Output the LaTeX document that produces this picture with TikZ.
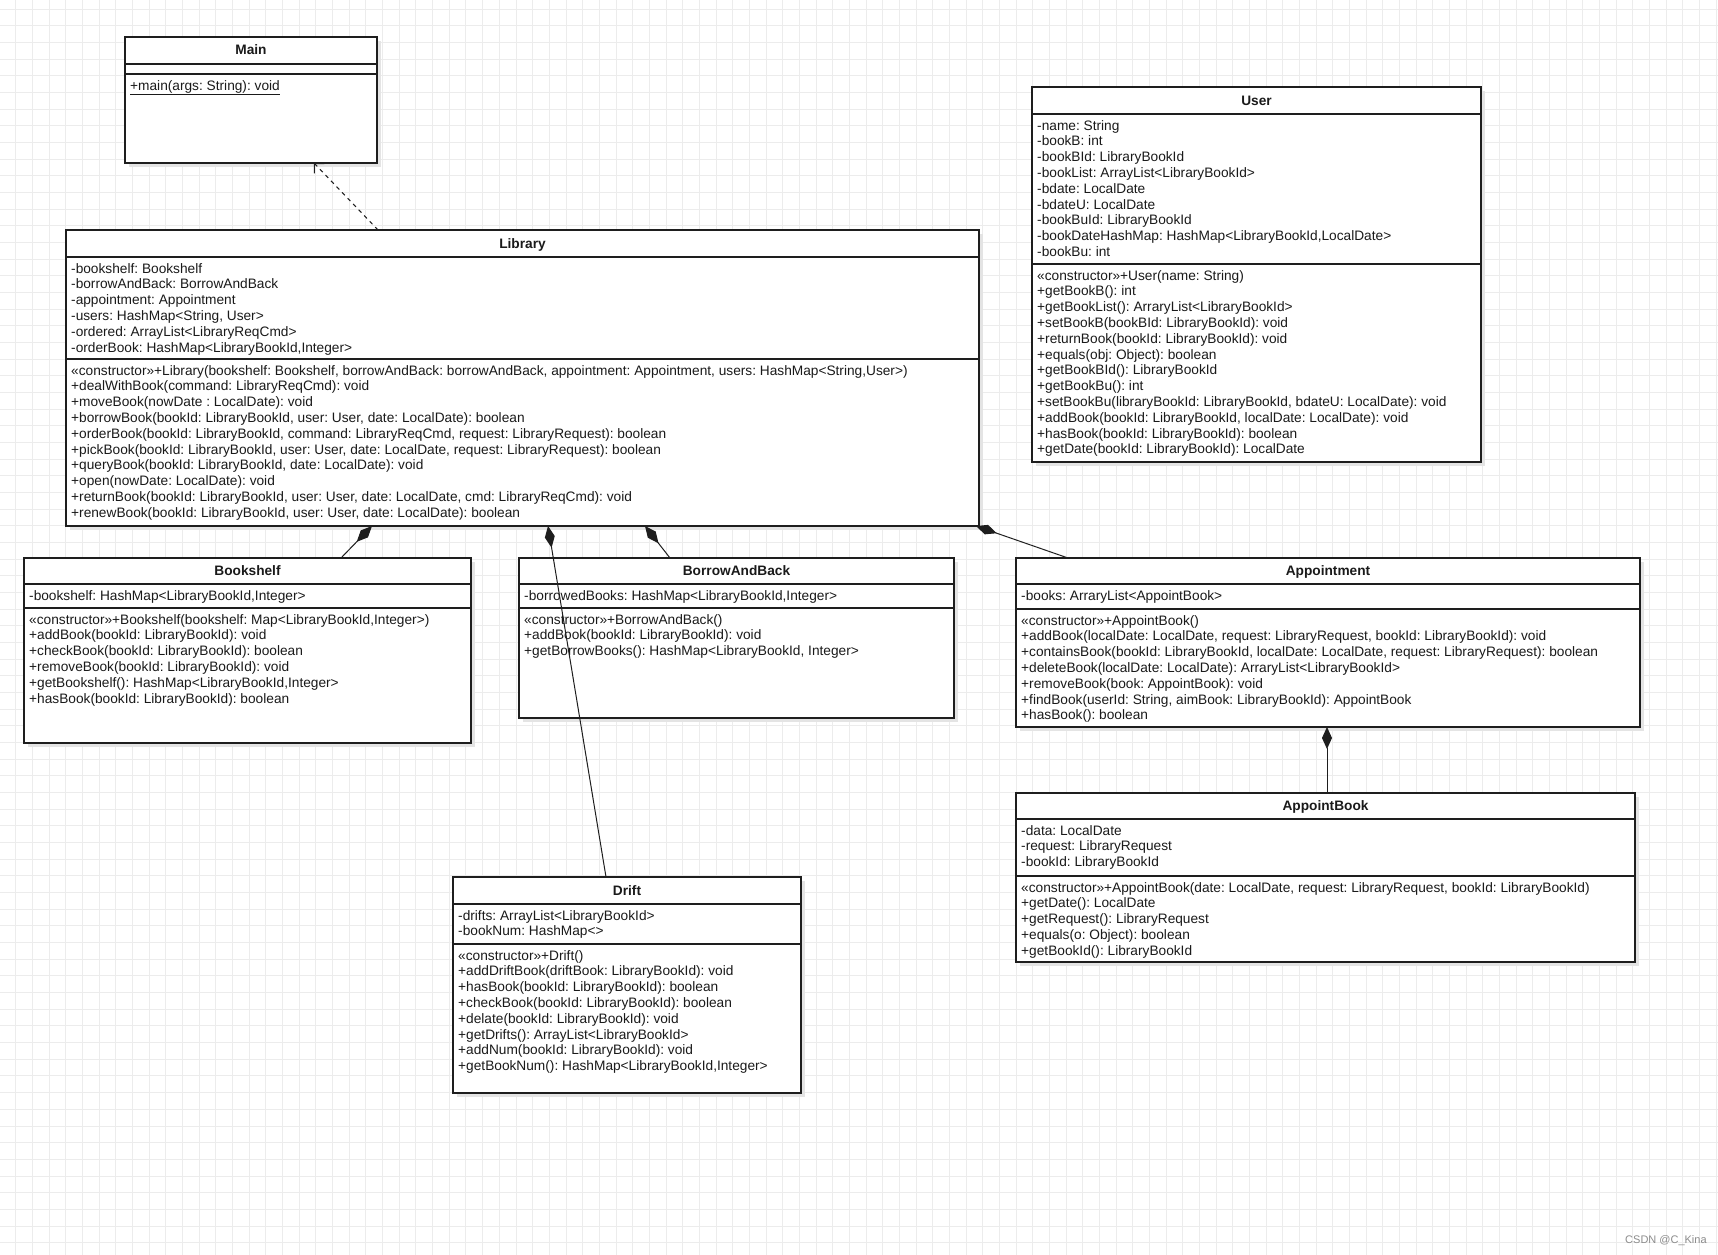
\documentclass[tikz,border=0pt]{standalone}
\usepackage{fontspec}
\setmainfont{Liberation Sans}
\usetikzlibrary{arrows.meta,calc}
\definecolor{gridc}{HTML}{ECECEC}
\definecolor{shadowc}{HTML}{E4E4E4}
\definecolor{linec}{HTML}{1E1E1E}
\definecolor{textc}{HTML}{1A1A1A}
\tikzset{
  x=1pt, y=-1pt,
  umlbox/.style={draw=linec, line width=1.1pt, fill=white, inner sep=0pt, outer sep=0pt},
  divline/.style={draw=linec, line width=1.1pt},
  rowtxt/.style={anchor=base west, inner sep=0pt, text=textc, font=\fontsize{13.7}{15.8}\selectfont\frenchspacing},
  ttl/.style={anchor=base, inner sep=0pt, text=textc, font=\fontsize{13.7}{15.8}\selectfont\bfseries},
  comp/.style={draw=linec, line width=1pt, {Diamond[length=22pt,width=10pt]}-},
  dep/.style={draw=linec, line width=1pt, dash pattern=on 4pt off 4pt, -{Straight Barb[length=7pt,width=14pt]}},
}
% name, x1, y1, x2, y2, divider1, divider2
\newcommand\umlclass[7]{%
  \fill[shadowc] (#2+4,#3+4) rectangle (#4+4,#5+4);
  \node[umlbox, minimum width={#4-#2}, minimum height={#5-#3}] (#1) at ({(#2+#4)/2},{(#3+#5)/2}) {};
  \draw[divline] (#2,#6) -- (#4,#6);
  \draw[divline] (#2,#7) -- (#4,#7);
}
% prefix, x, first baseline, list
\newcommand\umlrows[4]{%
  \foreach \t [count=\i] in {#4} {\node[rowtxt] (#1\i) at (#2,{#3+(\i-1)*15.8}) {\t};}
}
\begin{document}
\begin{tikzpicture}
\useasboundingbox (0,0) rectangle (1718,1255);
\fill[white] (0,0) rectangle (1718,1255);
\foreach \k in {0,...,103} {\draw[gridc, line width=0.8pt] ({15.8+\k*16.67},0) -- ({15.8+\k*16.67},1255);}
\foreach \k in {0,...,75} {\draw[gridc, line width=0.8pt] (0,{9+\k*16.67}) -- (1718,{9+\k*16.67});}

% Main
\umlclass{Main}{125}{37}{377}{163}{64}{74}
\node[ttl] (Main-t) at (251,55) {Main};
\node[rowtxt] (Main-m1) at (130,90) {\underline{+main(args: String): void}};

% Library
\umlclass{Library}{66}{230}{979}{526}{257}{359}
\node[ttl] (Library-t) at (522.5,248) {Library};
\umlrows{Library-a}{71}{273}{{-bookshelf: Bookshelf},{-borrowAndBack: BorrowAndBack},{-appointment: Appointment},{-users: HashMap<String, User>},{-ordered: ArrayList<LibraryReqCmd>},{-orderBook: HashMap<LibraryBookId,Integer>}}
\umlrows{Library-m}{71}{375}{{«constructor»+Library(bookshelf: Bookshelf, borrowAndBack: borrowAndBack, appointment: Appointment, users: HashMap<String,User>)},{+dealWithBook(command: LibraryReqCmd): void},{+moveBook(nowDate : LocalDate): void},{+borrowBook(bookId: LibraryBookId, user: User, date: LocalDate): boolean},{+orderBook(bookId: LibraryBookId, command: LibraryReqCmd, request: LibraryRequest): boolean},{+pickBook(bookId: LibraryBookId, user: User, date: LocalDate, request: LibraryRequest): boolean},{+queryBook(bookId: LibraryBookId, date: LocalDate): void},{+open(nowDate: LocalDate): void},{+returnBook(bookId: LibraryBookId, user: User, date: LocalDate, cmd: LibraryReqCmd): void},{+renewBook(bookId: LibraryBookId, user: User, date: LocalDate): boolean}}

% User
\umlclass{User}{1032}{87}{1481}{462}{114}{264}
\node[ttl] (User-t) at (1256.5,105) {User};
\umlrows{User-a}{1037}{130}{{-name: String},{-bookB: int},{-bookBId: LibraryBookId},{-bookList: ArrayList<LibraryBookId>},{-bdate: LocalDate},{-bdateU: LocalDate},{-bookBuId: LibraryBookId},{-bookDateHashMap: HashMap<LibraryBookId,LocalDate>},{-bookBu: int}}
\umlrows{User-m}{1037}{280}{{«constructor»+User(name: String)},{+getBookB(): int},{+getBookList(): ArraryList<LibraryBookId>},{+setBookB(bookBId: LibraryBookId): void},{+returnBook(bookId: LibraryBookId): void},{+equals(obj: Object): boolean},{+getBookBId(): LibraryBookId},{+getBookBu(): int},{+setBookBu(libraryBookId: LibraryBookId, bdateU: LocalDate): void},{+addBook(bookId: LibraryBookId, localDate: LocalDate): void},{+hasBook(bookId: LibraryBookId): boolean},{+getDate(bookId: LibraryBookId): LocalDate}}

% Bookshelf
\umlclass{Bookshelf}{24}{558}{471}{743}{584}{608}
\node[ttl] (Bookshelf-t) at (247.5,575.5) {Bookshelf};
\umlrows{Bookshelf-a}{29}{600}{{-bookshelf: HashMap<LibraryBookId,Integer>}}
\umlrows{Bookshelf-m}{29}{624}{{«constructor»+Bookshelf(bookshelf: Map<LibraryBookId,Integer>)},{+addBook(bookId: LibraryBookId): void},{+checkBook(bookId: LibraryBookId): boolean},{+removeBook(bookId: LibraryBookId): void},{+getBookshelf(): HashMap<LibraryBookId,Integer>},{+hasBook(bookId: LibraryBookId): boolean}}

% BorrowAndBack
\umlclass{BorrowAndBack}{519}{558}{954}{718}{584}{608}
\node[ttl] (BorrowAndBack-t) at (736.5,575.5) {BorrowAndBack};
\umlrows{BorrowAndBack-a}{524}{600}{{-borrowedBooks: HashMap<LibraryBookId,Integer>}}
\umlrows{BorrowAndBack-m}{524}{624}{{«constructor»+BorrowAndBack()},{+addBook(bookId: LibraryBookId): void},{+getBorrowBooks(): HashMap<LibraryBookId, Integer>}}

% Appointment
\umlclass{Appointment}{1016}{558}{1640}{727}{584}{609}
\node[ttl] (Appointment-t) at (1328,575.5) {Appointment};
\umlrows{Appointment-a}{1021}{600}{{-books: ArraryList<AppointBook>}}
\umlrows{Appointment-m}{1021}{625}{{«constructor»+AppointBook()},{+addBook(localDate: LocalDate, request: LibraryRequest, bookId: LibraryBookId): void},{+containsBook(bookId: LibraryBookId, localDate: LocalDate, request: LibraryRequest): boolean},{+deleteBook(localDate: LocalDate): ArraryList<LibraryBookId>},{+removeBook(book: AppointBook): void},{+findBook(userId: String, aimBook: LibraryBookId): AppointBook},{+hasBook(): boolean}}

% AppointBook
\umlclass{AppointBook}{1016}{793}{1635}{962}{819}{876}
\node[ttl] (AppointBook-t) at (1325.5,810.5) {AppointBook};
\umlrows{AppointBook-a}{1021}{835}{{-data: LocalDate},{-request: LibraryRequest},{-bookId: LibraryBookId}}
\umlrows{AppointBook-m}{1021}{892}{{«constructor»+AppointBook(date: LocalDate, request: LibraryRequest, bookId: LibraryBookId)},{+getDate(): LocalDate},{+getRequest(): LibraryRequest},{+equals(o: Object): boolean},{+getBookId(): LibraryBookId}}

% Drift
\umlclass{Drift}{453}{877}{801}{1093}{904}{944}
\node[ttl] (Drift-t) at (627,895) {Drift};
\umlrows{Drift-a}{458}{920}{{-drifts: ArrayList<LibraryBookId>},{-bookNum: HashMap<>}}
\umlrows{Drift-m}{458}{960}{{«constructor»+Drift()},{+addDriftBook(driftBook: LibraryBookId): void},{+hasBook(bookId: LibraryBookId): boolean},{+checkBook(bookId: LibraryBookId): boolean},{+delate(bookId: LibraryBookId): void},{+getDrifts(): ArrayList<LibraryBookId>},{+addNum(bookId: LibraryBookId): void},{+getBookNum(): HashMap<LibraryBookId,Integer>}}

% connectors
\draw[dep] ([xshift=312pt]Library.north west) -- ([xshift=189pt]Main.south west);
\draw[comp] ([xshift=306pt]Library.south west) -- ([xshift=317pt]Bookshelf.north west);
\draw[comp] ([xshift=482pt]Library.south west) -- ([xshift=153pt]Drift.north west);
\draw[comp] ([xshift=579pt]Library.south west) -- ([xshift=151pt]BorrowAndBack.north west);
\draw[comp] ([xshift=910pt]Library.south west) -- ([xshift=52pt]Appointment.north west);
\draw[comp] ([xshift=311pt]Appointment.south west) -- ([xshift=311pt]AppointBook.north west);

\node[anchor=base west, inner sep=0pt, text=black!45, font=\fontsize{11}{13}\selectfont] (wm) at (1625,1243) {CSDN @C\_Kina};
\end{tikzpicture}
\end{document}
